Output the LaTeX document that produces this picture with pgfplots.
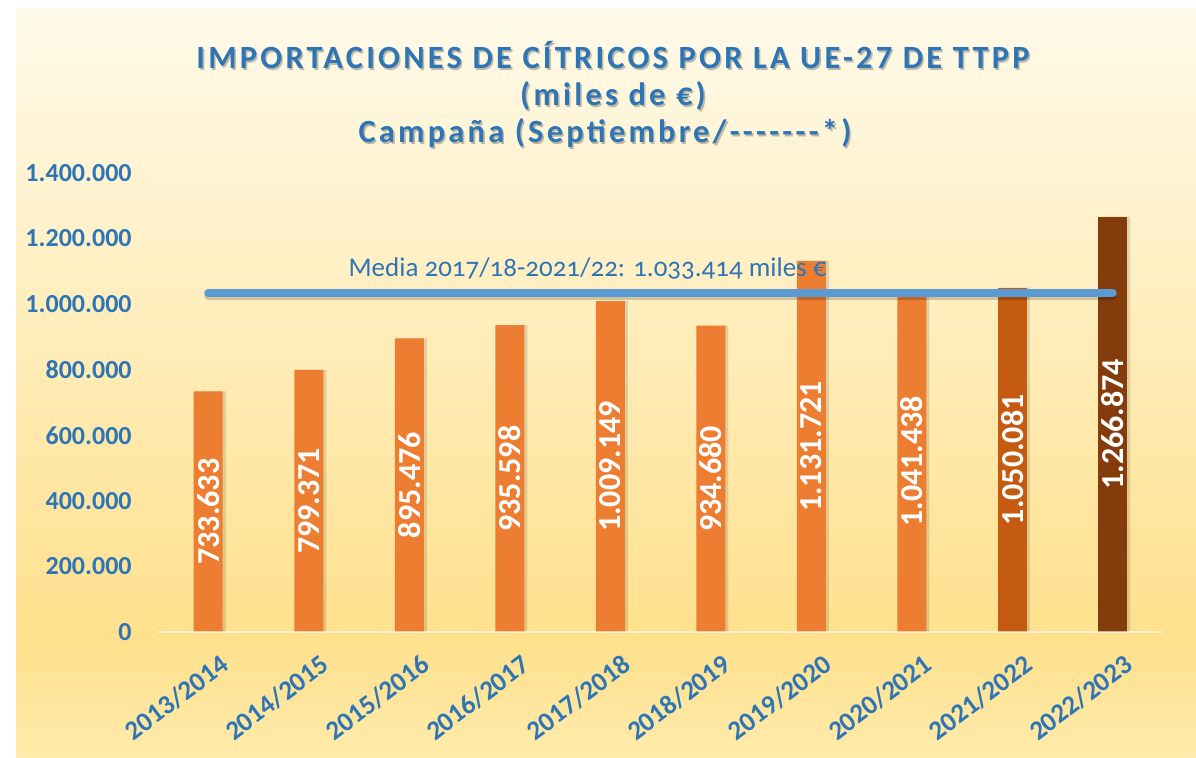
\documentclass[border=0pt]{standalone}
\usepackage{fontspec}
\setmainfont{Carlito}
\usepackage{pgfplots}
\usepackage{pgfplotstable}
\pgfplotsset{compat=1.18}
\definecolor{tblue}{HTML}{2E75B6}
\definecolor{lblue}{HTML}{5B9BD5}
\definecolor{or1}{HTML}{ED7D31}
\definecolor{or2}{HTML}{C55A11}
\definecolor{or3}{HTML}{843C0C}
\definecolor{bgtop}{HTML}{FFFAEA}
\definecolor{bgmid}{HTML}{FFE08C}
\definecolor{bgbot}{HTML}{FFEBAB}
\pgfdeclareverticalshading{bgshade}{100bp}{color(0bp)=(bgbot); color(25bp)=(bgbot); color(33bp)=(bgmid); color(75bp)=(bgtop); color(100bp)=(bgtop)}
\pgfplotstableread{
x y lab
0 733633 733.633
1 799371 799.371
2 895476 895.476
3 935598 935.598
4 1009149 1.009.149
5 934680 934.680
6 1131721 1.131.721
7 1041438 1.041.438
8 1050081 1.050.081
9 1266874 1.266.874
}\data
\newcommand{\tfont}{\fontsize{16.2pt}{19pt}\selectfont\bfseries\addfontfeatures{LetterSpace=10}}
\begin{document}
\begin{tikzpicture}
\useasboundingbox (0,0) rectangle (598pt,379pt);
\shade[shading=bgshade] (8pt,0) rectangle (598pt,374.5pt);
% title
\foreach \dx/\dy/\col/\op in {0.8pt/-0.8pt/black/0.25, 0pt/0pt/tblue/1} {
  \node[anchor=base, inner sep=0pt, text=\col, opacity=\op, font=\tfont] at ([xshift=\dx,yshift=\dy]306.5pt,344.5pt) {IMPORTACIONES DE CÍTRICOS POR LA UE-27 DE TTPP};
  \node[anchor=base, inner sep=0pt, text=\col, opacity=\op, font=\tfont] at ([xshift=\dx,yshift=\dy]306.5pt,326pt) {(miles de €)};
  \node[anchor=base, inner sep=0pt, text=\col, opacity=\op, font=\tfont] at ([xshift=\dx,yshift=\dy]302.5pt,307.5pt) {Campaña (Septiembre/{-}{-}{-}{-}{-}{-}{-}*)};
}
\begin{axis}[
  at={(79pt,63pt)}, anchor=south west, scale only axis,
  width=502.5pt, height=229.5pt,
  xmin=-0.5, xmax=9.5, ymin=0, ymax=1400000,
  clip=false,
  axis line style={draw=none},
  tick style={draw=none},
  scaled y ticks=false,
  ytick={0,200000,400000,600000,800000,1000000,1200000,1400000},
  yticklabels={0,200.000,400.000,600.000,800.000,1.000.000,1.200.000,1.400.000},
  xtick={0,1,2,3,4,5,6,7,8,9},
  xticklabels={2013/2014,2014/2015,2015/2016,2016/2017,2017/2018,2018/2019,2019/2020,2020/2021,2021/2022,2022/2023},
  yticklabel style={anchor=east, inner sep=0pt, xshift=-13pt, text=tblue, font=\fontsize{13pt}{15pt}\selectfont\bfseries},
  xticklabel style={rotate=37, anchor=north east, inner sep=0pt, xshift=-2pt, yshift=-11.5pt, text=tblue, font=\fontsize{13.5pt}{15pt}\selectfont\bfseries},
]
\addplot[ybar, bar width=14.5pt, bar shift=1.6pt, fill=black, draw=none, opacity=0.12] table[x=x,y=y]{\data};
\addplot[ybar, bar width=14.5pt, bar shift=0pt, fill=or1, draw=none, restrict x to domain=0:7] table[x=x,y=y]{\data};
\addplot[ybar, bar width=14.5pt, bar shift=0pt, fill=or2, draw=none, restrict x to domain=8:8] table[x=x,y=y]{\data};
\addplot[ybar, bar width=14.5pt, bar shift=0pt, fill=or3, draw=none, restrict x to domain=9:9] table[x=x,y=y]{\data};
\draw[white, opacity=0.6, line width=1.2pt] (axis cs:-0.5,0) -- (axis cs:9.5,0);
\addplot[draw=none, mark=none, nodes near coords, point meta=explicit symbolic,
  every node near coord/.style={rotate=90, anchor=center, inner sep=0pt, text=white, font=\fontsize{16pt}{18pt}\selectfont\bfseries}]
  table[x=x, y expr=\thisrow{y}/2, meta=lab]{\data};
\addplot[line width=4pt, black, opacity=0.18, line cap=round, yshift=-1.5pt] coordinates {(0,1033414) (9,1033414)};
\addplot[line width=4pt, lblue, line cap=round] coordinates {(0,1033414) (9,1033414)};
\node[anchor=west, inner sep=0pt, text=tblue, font=\fontsize{13.5pt}{16pt}\selectfont\addfontfeatures{Numbers=OldStyle}] at (axis cs:1.393,1110000) {Media 2017/18-2021/22: 1.033.414 miles €};
\end{axis}
\end{tikzpicture}
\end{document}
